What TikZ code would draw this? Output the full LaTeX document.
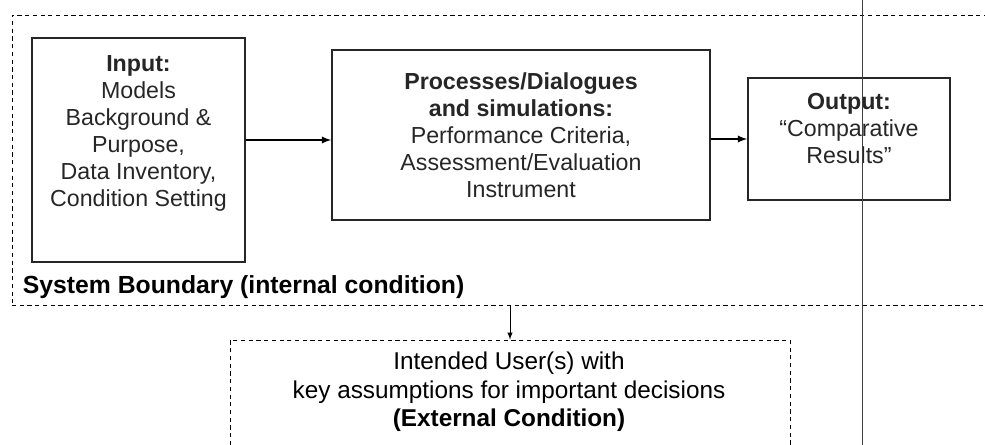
\documentclass[tikz,border=0pt]{standalone}
\usepackage{fontspec}
\setmainfont{Liberation Sans}
\tikzset{
  blockbox/.style={draw, line width=1.1pt, draw=black!85},
  dashbox/.style={draw, dash pattern=on 3pt off 2.5pt, line width=0.6pt},
  boxtext/.style={align=center, text=black!85, font=\fontsize{16.5}{19.2}\selectfont},
}
\begin{document}
\begin{tikzpicture}[>=latex, scale=1]
            \useasboundingbox (0,0) rectangle (24.625,11.125);
            % system boundary and the three blocks
            \node[dashbox, minimum width=25.2cm, minimum height=7.25cm] (sys) at (12.9,7.125) {};
            \node[blockbox, minimum width=5.325cm, minimum height=5.6cm] (in) at (3.4625,7.375) {};
            \node[boxtext] (intext) at (3.4625,7.8) {\textbf{Input:}\\Models\\Background \&\\Purpose,\\Data Inventory,\\Condition Setting};
            \node[blockbox, boxtext, minimum width=9.45cm, minimum height=4.25cm] (proc) at (13.025,7.75) {\textbf{Processes/Dialogues}\\\textbf{and simulations:}\\Performance Criteria,\\Assessment/Evaluation\\Instrument};
            \node[blockbox, minimum width=5.05cm, minimum height=3.05cm] (out) at (21.225,7.65) {};
            \node[boxtext] (outtext) at (21.225,7.92) {\textbf{Output:}\\``Comparative\\Results''};
            \node[anchor=west, font=\fontsize{17.6}{20}\selectfont\bfseries] (syslabel) at (0.45,3.95) {System Boundary (internal condition)};
            \draw[->, line width=1.3pt] ([yshift=0.25cm]in.east) -- ([yshift=-0.125cm]proc.west);
            \draw[->, line width=1.3pt] ([yshift=-0.1cm]proc.east) -- (out.west);
            % external condition
            \node[dashbox, minimum width=14cm, minimum height=2.725cm] (ext) at (12.75,1.2625) {};
            \node[align=center, font=\fontsize{17.3}{20}\selectfont] (exttext) at (12.725,1.33) {Intended User(s) with\\key assumptions for important decisions\\\textbf{(External Condition)}};
            \draw[->, line width=0.7pt] (ext.north |- sys.south) -- (ext.north);
            \draw[black!75, line width=0.5pt] (21.55,0) -- (21.55,11.125);
        \end{tikzpicture}
\end{document}
